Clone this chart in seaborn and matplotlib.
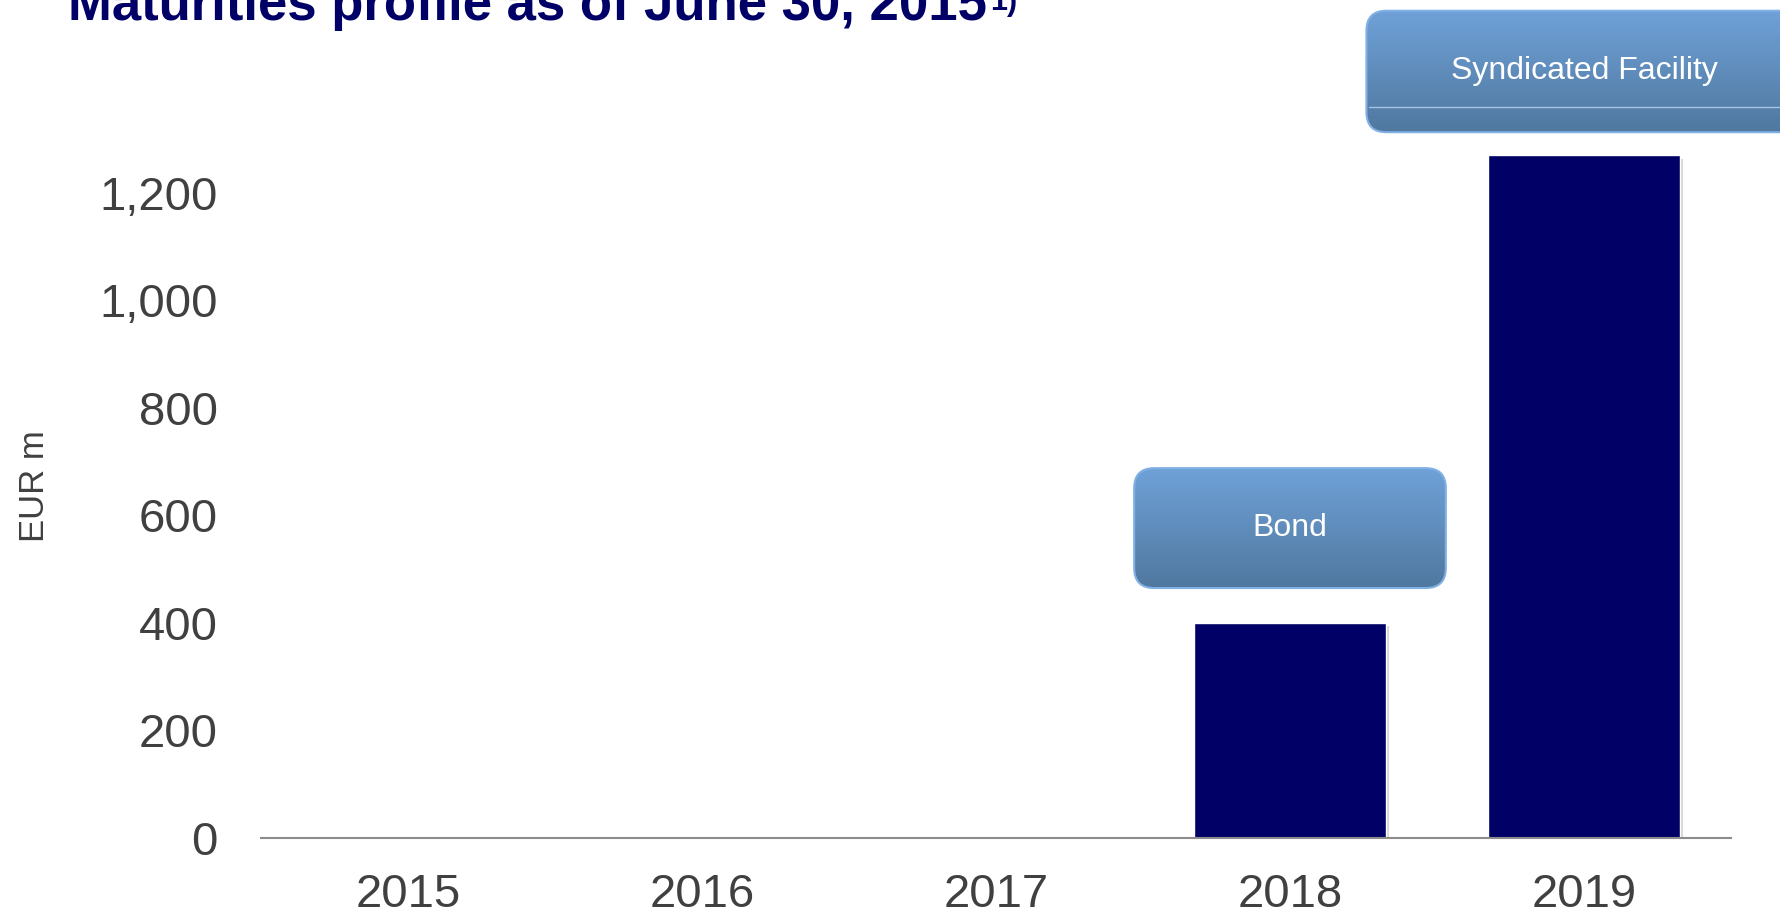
import numpy as np
import pandas as pd
import seaborn as sns
import matplotlib.pyplot as plt
import matplotlib.patheffects as pe
from matplotlib.patches import FancyBboxPatch
from matplotlib.colors import LinearSegmentedColormap

years = ["2015", "2016", "2017", "2018", "2019"]
maturities = [0, 0, 0, 400, 1270]
y_ticks = [0, 200, 400, 600, 800, 1000, 1200]

# call-out boxes over the bars
box_labels = ["Bond", "Syndicated Facility"]
box_x = [(2.47, 3.53), (3.26, 4.74)]
box_y = [(465, 688), (1313, 1539)]

NAVY = "#000066"
GREY = "#404040"

sns.set_style("white")
plt.rcParams["font.family"] = ["Liberation Sans", "DejaVu Sans"]

fig = plt.figure(figsize=(17.8, 9.15), dpi=100)
# axes run to the right edge of the figure so the top box can leave the picture
xu = 1470 / 5.0
ax = fig.add_axes([261 / 1780, 0.0842, 1 - 261 / 1780, 0.9158])

df = pd.DataFrame({"year": years, "value": maturities})
sns.barplot(data=df, x="year", y="value", color=NAVY, saturation=1,
            width=0.65, ax=ax, zorder=2)
for p in ax.patches:
    p.set_path_effects([pe.SimplePatchShadow(offset=(2.5, -2.5), shadow_rgbFace="#888888", alpha=0.35),
                        pe.Normal()])

# pixel scale of the axes, used to keep the box corners round
yu = 645 / 1200.0
rad = 20
grad = LinearSegmentedColormap.from_list("box", ["#50789f", "#6fa1d8"])
for label, (x0, x1), (y0, y1) in zip(box_labels, box_x, box_y):
    box = FancyBboxPatch((x0, y0), x1 - x0, y1 - y0,
                         boxstyle=f"round,pad=0,rounding_size={rad / xu}",
                         mutation_aspect=xu / yu, fc="none", ec="#80b0e4",
                         lw=1.5, zorder=5)
    ax.add_patch(box)
    im = ax.imshow(np.linspace(0, 1, 256).reshape(-1, 1), cmap=grad, origin="lower",
                   extent=(x0, x1, y0, y1), aspect="auto", zorder=4)
    im.set_clip_path(box)
    cx = (x0 + x1) / 2 if x1 < 4.6 else 4.0
    ax.text(cx, (y0 + y1) / 2, label, color="white",
            fontsize=23, ha="center", va="center", zorder=6)
    if label == "Syndicated Facility":
        ax.plot([x0 + 0.01, x1], [1360, 1360], color="#a4c3e8", lw=1, zorder=5)

ax.set_xlim(-0.5, -0.5 + 1519 / xu)
ax.set_ylim(0, 1559)
ax.set_yticks(y_ticks)
ax.set_yticklabels([f"{v:,}" for v in y_ticks])
ax.tick_params(axis="y", length=0, pad=31, labelsize=34, labelcolor=GREY)
ax.tick_params(axis="x", length=0, pad=25, labelsize=34, labelcolor=GREY)
ax.set_xlabel("")
ax.set_ylabel("")
for s in ["left", "top", "right"]:
    ax.spines[s].set_visible(False)
ax.spines["bottom"].set_bounds(-0.5, 4.5)
ax.spines["bottom"].set_color("#8c8c8c")
ax.spines["bottom"].set_linewidth(1.5)

fig.text(34 / 1780, 1 - 486 / 915, "EUR m", rotation=90, ha="center", va="center",
         fontsize=25, color=GREY)

title = fig.text(68 / 1780, 1 - 20 / 915, "Maturities profile as of June 30, 2015",
                 fontweight="bold", color=NAVY, fontsize=38, va="baseline")
fig.canvas.draw()
bb = title.get_window_extent()
fig.text(bb.x1 / fig.bbox.width + 0.002, 1 - 10 / 915, "1)", fontweight="bold",
         color=NAVY, fontsize=22, va="baseline")

fig.savefig("out.png", dpi=100)
